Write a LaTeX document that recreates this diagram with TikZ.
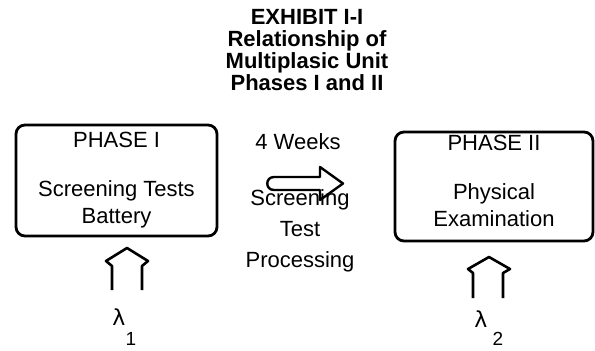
\documentclass[tikz,border=0pt]{standalone}
\usepackage{fontspec}
\setmainfont{Liberation Sans}
\newfontfamily\grkfont{DejaVu Sans}
\begin{document}
\begin{tikzpicture}[x=1pt,y=-1pt,
		phasebox/.style={draw, line width=2.8pt, rounded corners=9pt, align=center, inner sep=0pt, font=\fontsize{22}{27}\selectfont},
		lbl/.style={align=center, inner sep=0pt, font=\fontsize{22}{31}\selectfont},
		feed/.style={line width=2.6pt, line join=round}]
			\useasboundingbox (0,0) rectangle (595,351);
			\draw (307,50) node[align=center, inner sep=0pt, font=\bfseries\fontsize{22}{21.7}\selectfont] (title) {EXHIBIT I-I\\Relationship of\\Multiplasic Unit\\Phases I and II};
			\draw (116.5,180.5) node[phasebox, minimum width=201pt, minimum height=111pt] (ph1) {PHASE I\\[22pt]Screening Tests\\Battery};
			\draw (494,186.5) node[phasebox, minimum width=198pt, minimum height=109pt, text depth=12pt] (ph2) {PHASE II\\[22pt]Physical\\Examination};
			\draw (298,142) node[lbl] (wk) {4 Weeks};
			\draw (300,231) node[lbl] (proc) {Screening\\Test\\Processing};
			\draw[line width=2.4pt, line join=round] (320,190) -- (320,200) -- (343,183.5) -- (320,167) -- (320,177) -- (274,177) .. controls (265,177) and (265,190) .. (274,190) -- cycle;
			\draw (119,317) node[inner sep=0pt, font=\grkfont\fontsize{22}{22}\selectfont] (lam1) {λ};
			\draw (131,339) node[inner sep=0pt, font=\fontsize{19}{19}\selectfont] (sub1) {1};
			\draw (481,319) node[inner sep=0pt, font=\grkfont\fontsize{22}{22}\selectfont] (lam2) {λ};
			\draw (498,339) node[inner sep=0pt, font=\fontsize{19}{19}\selectfont] (sub2) {2};
			\draw[feed] (112,290) -- (112,266) -- (106,261) -- (127,248) -- (148,261) -- (142,266) -- (142,290);
			\draw[feed] (473,298) -- (473,273) -- (468,269) -- (489,257) -- (510,269) -- (503,273) -- (503,298);
		\end{tikzpicture}
\end{document}
